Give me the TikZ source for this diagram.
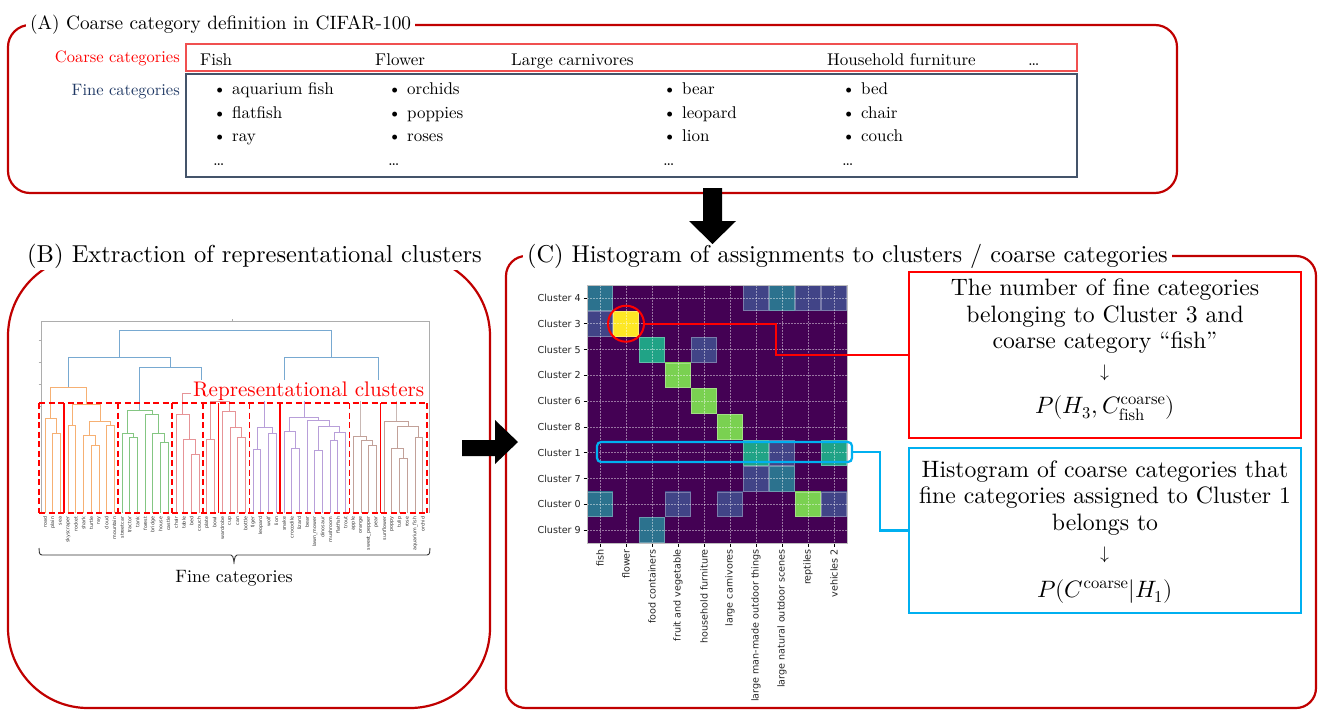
\documentclass[tikz,border=0pt]{standalone}
\usepackage{fontspec}
\usepackage{unicode-math}
\setmainfont{lmroman10-regular.otf}
\setmathfont{Latin Modern Math}
\setsansfont{DejaVu Sans}
\usetikzlibrary{calc}
\definecolor{frm}{HTML}{C00000}
\definecolor{cred}{HTML}{FF0000}
\definecolor{ccyan}{HTML}{00B0F0}
\definecolor{navy}{HTML}{1F3864}
\definecolor{slate}{HTML}{44546A}
\definecolor{coarsered}{HTML}{F05050}
\definecolor{vbg}{HTML}{440154}
\definecolor{vbl}{HTML}{414487}
\definecolor{vte}{HTML}{2C728E}
\definecolor{vgt}{HTML}{20A386}
\definecolor{vlg}{HTML}{7AD151}
\definecolor{vye}{HTML}{FDE725}
\definecolor{dor}{HTML}{F6B073}
\definecolor{dgr}{HTML}{84C682}
\definecolor{dpk}{HTML}{E69497}
\definecolor{dpu}{HTML}{B89FD9}
\definecolor{dbr}{HTML}{C2A199}
\definecolor{dbl}{HTML}{78A9D1}
\definecolor{dbgr}{HTML}{C9B8B4}
\newcommand\fsz[2]{\fontsize{#1}{#2}\selectfont}
\newcommand\U[6]{\draw[#1,line width=0.9] (#2,#3) -- (#2,#6) -- (#4,#6) -- (#4,#5);}
\newcommand\hc[3]{\fill[#3] ({587+26*#2},{285+25.8*#1}) rectangle ++(26,25.8);
  \draw[#3!70!white,line width=0.7] ({587.5+26*#2},{285.5+25.8*#1}) rectangle ++(25,24.8);}
\begin{document}
\begin{tikzpicture}[x=1pt,y=-1pt,
  frameline/.style={draw=frm,line width=2.2},
  ttl/.style={inner xsep=4,inner ysep=2,fill=white,anchor=base west},
  itemtxt/.style={inner sep=0,anchor=base west,font=\fsz{17}{20}},
  boxtxt/.style={inner sep=0,anchor=base,font=\fsz{23.7}{27}},
  hmlab/.style={inner sep=0,font=\sffamily\fsz{9.6}{11},text=black!85},
  leaflab/.style={inner sep=0,font=\sffamily\fsz{4.8}{5},text=black!80,rotate=90,anchor=east},
  dashbox/.style={draw=cred,line width=1.7,dash pattern=on 6 off 3.5},
  solidbox/.style={draw=cred,line width=1.7},
  redline/.style={draw=cred,line width=2.2},
  cyanline/.style={draw=ccyan,line width=2.2},
  fatarrow/.style={fill=black}]
\useasboundingbox (0,0) rectangle (1325,718);
\fill[white] (0,0) rectangle (1325,718);

% ---------------- Panel A ----------------
\draw[frameline,rounded corners=22] (8,25) rectangle (1177,193);
\node[ttl,font=\fsz{19.3}{22}] (ttlA) at (26,29) {(A) Coarse category definition in CIFAR-100};
\draw[draw=coarsered,line width=1.5] (186,44) rectangle (1077,71);
\draw[draw=slate,line width=1.4] (186,74) rectangle (1077,177);
\node[inner sep=0,anchor=base east,font=\fsz{16.5}{20},text=cred] (lcoarse) at (180,62) {Coarse categories};
\node[inner sep=0,anchor=base east,font=\fsz{16.5}{20},text=navy] (lfine) at (180,95) {Fine categories};
\node[itemtxt] (h1) at (200,65) {Fish};
\node[itemtxt] (h2) at (375,65) {Flower};
\node[itemtxt] (h3) at (511,65) {Large carnivores};
\node[itemtxt] (h4) at (827,65) {Household furniture};
\node[itemtxt] (h5) at (1028,65) {…};
\foreach \cx/\a/\b/\c in {213/aquarium fish/flatfish/ray, 388/orchids/poppies/roses, 663/bear/leopard/lion, 842/bed/chair/couch}{
  \node[itemtxt] at (\cx,94.5) {\textbullet\ \a};
  \node[itemtxt] at (\cx,118) {\textbullet\ \b};
  \node[itemtxt] at (\cx,141.5) {\textbullet\ \c};
  \node[itemtxt] at (\cx,165) {…};
}

% ---------------- Panel B ----------------
\draw[frameline,rounded corners=80] (8,256) rectangle (490,708);
\node[ttl,font=\fsz{24.5}{28}] (ttlB) at (23,262) {(B) Extraction of representational clusters};
% axes of the dendrogram
\draw[black!32,line width=0.8] (41,513) -- (41,321) -- (429,321) -- (429,513);
\foreach \yy in {340,362,384,406} \draw[black!32,line width=0.6] (38.5,\yy) -- (41,\yy);
\draw[black!32,line width=0.6] (232,321) -- (232,318.5);
% orange
\U{dor}{52.7}{513}{60.4}{513}{433}
\U{dor}{45}{513}{56.55}{433}{418}
\U{dor}{68.1}{513}{75.8}{513}{425}
\U{dor}{91.3}{513}{99.0}{513}{445}
\U{dor}{83.6}{513}{95.15}{445}{435}
\U{dor}{106.7}{513}{114.4}{513}{425}
\U{dor}{89.4}{435}{110.55}{425}{421}
\U{dor}{71.95}{425}{99.98}{421}{404}
\U{dor}{50.8}{418}{85.97}{404}{387}
% green
\U{dgr}{129.8}{513}{137.5}{513}{437}
\U{dgr}{122.1}{513}{133.65}{437}{433}
\U{dgr}{160.6}{513}{168.4}{513}{442}
\U{dgr}{152.9}{513}{164.5}{442}{433}
\U{dgr}{145.2}{513}{158.7}{433}{414}
\U{dgr}{127.9}{433}{151.95}{414}{410}
% pink
\U{dpk}{191.5}{513}{199.2}{513}{454}
\U{dpk}{183.8}{513}{195.35}{454}{439}
\U{dpk}{176.1}{513}{189.6}{439}{414}
\U{dpk}{206.9}{513}{214.6}{513}{439}
\U{dpk}{237.7}{513}{245.5}{513}{437}
\U{dpk}{230.0}{513}{241.6}{437}{427}
\U{dpk}{222.3}{513}{235.8}{427}{411}
\U{dpk}{210.75}{439}{229.05}{411}{401}
\U{dpk}{182.85}{414}{219.9}{401}{393}
% purple
\U{dpu}{253.2}{513}{260.9}{513}{449}
\U{dpu}{268.6}{513}{276.3}{513}{433}
\U{dpu}{257.05}{449}{272.45}{433}{427}
\U{dpu}{291.7}{513}{299.4}{513}{448}
\U{dpu}{284.0}{513}{295.55}{448}{431}
\U{dpu}{314.8}{513}{322.5}{513}{450}
\U{dpu}{330.2}{513}{337.9}{513}{440}
\U{dpu}{334.05}{440}{345.6}{513}{432}
\U{dpu}{318.65}{450}{339.8}{432}{426}
\U{dpu}{307.1}{513}{329.2}{426}{420}
\U{dpu}{289.8}{431}{318.15}{420}{417}
\U{dpu}{264.75}{427}{303.95}{417}{395}
% brown
\U{dbr}{368.8}{513}{376.5}{513}{445}
\U{dbr}{361.1}{513}{372.65}{445}{440}
\U{dbr}{353.3}{513}{366.9}{440}{436}
\U{dbr}{399.6}{513}{407.3}{513}{458}
\U{dbr}{391.9}{513}{403.45}{458}{448}
\U{dbr}{415.0}{513}{422.7}{513}{437}
\U{dbr}{397.7}{448}{418.85}{437}{426}
\U{dbr}{384.2}{513}{408.3}{426}{421}
\U{dbgr}{360.1}{436}{396.25}{421}{398}
% blue
\U{dbl}{139.9}{410}{201.4}{393}{367}
\U{dbl}{68.4}{387}{170.65}{367}{357}
\U{dbl}{284.35}{395}{378.2}{398}{357}
\U{dbl}{119.5}{357}{331.3}{357}{330}
% label of clusters
\node[inner xsep=2,inner ysep=1,fill=white,anchor=base west,font=\fsz{21.1}{24},text=cred] (rclab) at (191,396) {Representational clusters};
% representational cluster boxes
\draw[dashbox] (39,403) -- (427,403);
\draw[dashbox] (39,513) -- (427,513);
\foreach \xx in {39,118.3,172.3,203,249.4,349.5,427} \draw[dashbox] (\xx,403) -- (\xx,513);
\foreach \xx in {64.3,218.5,280.2,380.4} \draw[solidbox] (\xx,403) -- (\xx,513);
% leaf labels
\foreach \t [count=\i from 0] in {road,plain,sea,skyscraper,rocket,shark,turtle,ray,cloud,mountain,streetcar,tractor,tank,forest,bridge,house,castle,chair,table,bed,couch,plate,bowl,wardrobe,cup,can,bottle,tiger,leopard,wolf,lion,snake,crocodile,lizard,bear,lawn\_mower,dinosaur,mushroom,flatfish,trout,apple,orange,sweet\_pepper,pear,sunflower,poppy,tulip,rose,aquarium\_fish,orchid}
  \node[leaflab] at ({45+7.71*\i},516.5) {\t};
% brace
\draw[black!80,line width=0.9] (39,548) to[out=-90,in=180] (42,555) -- (231,555) to[out=0,in=-90] (234,562) to[out=-90,in=180] (237,555) -- (427,555) to[out=0,in=-90] (430,548);
\node[inner sep=0,anchor=base,font=\fsz{17.9}{21}] (finelab) at (234,582) {Fine categories};

% ---------------- Panel C ----------------
\draw[frameline,rounded corners=20] (506,256) rectangle (1316,708);
\node[ttl,font=\fsz{24.3}{28}] (ttlC) at (523,262) {(C) Histogram of assignments to clusters / coarse categories};
% heatmap
\fill[vbg] (587,285) rectangle (847,543);
\hc{0}{0}{vte}\hc{0}{6}{vbl}\hc{0}{7}{vte}\hc{0}{8}{vbl}\hc{0}{9}{vbl}
\hc{1}{0}{vbl}\hc{1}{1}{vye}
\hc{2}{2}{vgt}\hc{2}{4}{vbl}
\hc{3}{3}{vlg}
\hc{4}{4}{vlg}
\hc{5}{5}{vlg}
\hc{6}{6}{vgt}\hc{6}{7}{vbl}\hc{6}{9}{vgt}
\hc{7}{6}{vbl}\hc{7}{7}{vte}
\hc{8}{0}{vte}\hc{8}{3}{vbl}\hc{8}{5}{vbl}\hc{8}{8}{vlg}\hc{8}{9}{vbl}
\hc{9}{2}{vte}
\foreach \k in {0,...,9}{
  \draw[white,opacity=0.45,line width=0.6,dash pattern=on 1.5 off 1.5] ({600+26*\k},285) -- ({600+26*\k},543);
  \draw[white,opacity=0.45,line width=0.6,dash pattern=on 1.5 off 1.5] (587,{297.9+25.8*\k}) -- (847,{297.9+25.8*\k});
  \draw[black,line width=0.7] (583.5,{297.9+25.8*\k}) -- (587,{297.9+25.8*\k});
  \draw[black,line width=0.7] ({600+26*\k},543) -- ({600+26*\k},546.5);
}
\draw[black!25,line width=0.6] (587,285) rectangle (847,543);
\foreach \lab [count=\r from 0] in {4,3,5,2,6,8,1,7,0,9}
  \node[hmlab,anchor=east] at (581,{297.9+25.8*\r}) {Cluster \lab};
\foreach \lab [count=\c from 0] in {fish,flower,food containers,fruit and vegetable,household furniture,large carnivores,large man-made outdoor things,large natural outdoor scenes,reptiles,vehicles 2}
  \node[hmlab,rotate=90,anchor=east] at ({600+26*\c},549) {\lab};
% highlight marks
\node[draw=cred,line width=2,circle,minimum size=36,inner sep=0] (circ) at (626,323.7) {};
\node[draw=ccyan,line width=2.2,rounded corners=4,minimum width=255,minimum height=20,inner sep=0] (c1box) at (724.5,452) {};
% explanation boxes
\node[draw=cred,line width=1.6,minimum width=392,minimum height=166,inner sep=0] (redbox) at (1105,355) {};
\node[draw=ccyan,line width=1.8,minimum width=392,minimum height=165,inner sep=0] (bluebox) at (1105,530.5) {};
\node[boxtxt] (r1) at (1105,295) {The number of fine categories};
\node[boxtxt] (r2) at (1105,322) {belonging to Cluster 3 and};
\node[boxtxt] (r3) at (1105,348.5) {coarse category ``fish''};
\node[boxtxt,font=\fsz{18}{20}] (r4) at (1105,377) {$\downarrow$};
\node[boxtxt] (r5) at (1105,413) {$P(H_3,C^{\mathrm{coarse}}_{\mathrm{fish}})$};
\node[boxtxt] (b1) at (1105,477) {Histogram of coarse categories that};
\node[boxtxt] (b2) at (1105,503.5) {fine categories assigned to Cluster 1};
\node[boxtxt] (b3) at (1105,530) {belongs to};
\node[boxtxt,font=\fsz{18}{20}] (b4) at (1105,559) {$\downarrow$};
\node[boxtxt] (b5) at (1105,597) {$P(C^{\mathrm{coarse}}|H_1)$};
% connectors
\coordinate (rk) at (776,0);
\coordinate (ck) at (880,0);
\draw[redline] (circ.east) -- (circ.east -| rk) -- (rk |- redbox.west) -- (redbox.west);
\draw[cyanline] (c1box.east) -- (c1box.east -| ck) -- (ck |- bluebox.west) -- (bluebox.west);

% ---------------- big arrows ----------------
\fill[fatarrow] (703,188) -- (722,188) -- (722,221) -- (736,221) -- (712.5,244) -- (689,221) -- (703,221) -- cycle;
\fill[fatarrow] (462,440) -- (495,440) -- (495,420) -- (518,442) -- (495,464) -- (495,456) -- (462,456) -- cycle;
\end{tikzpicture}
\end{document}
